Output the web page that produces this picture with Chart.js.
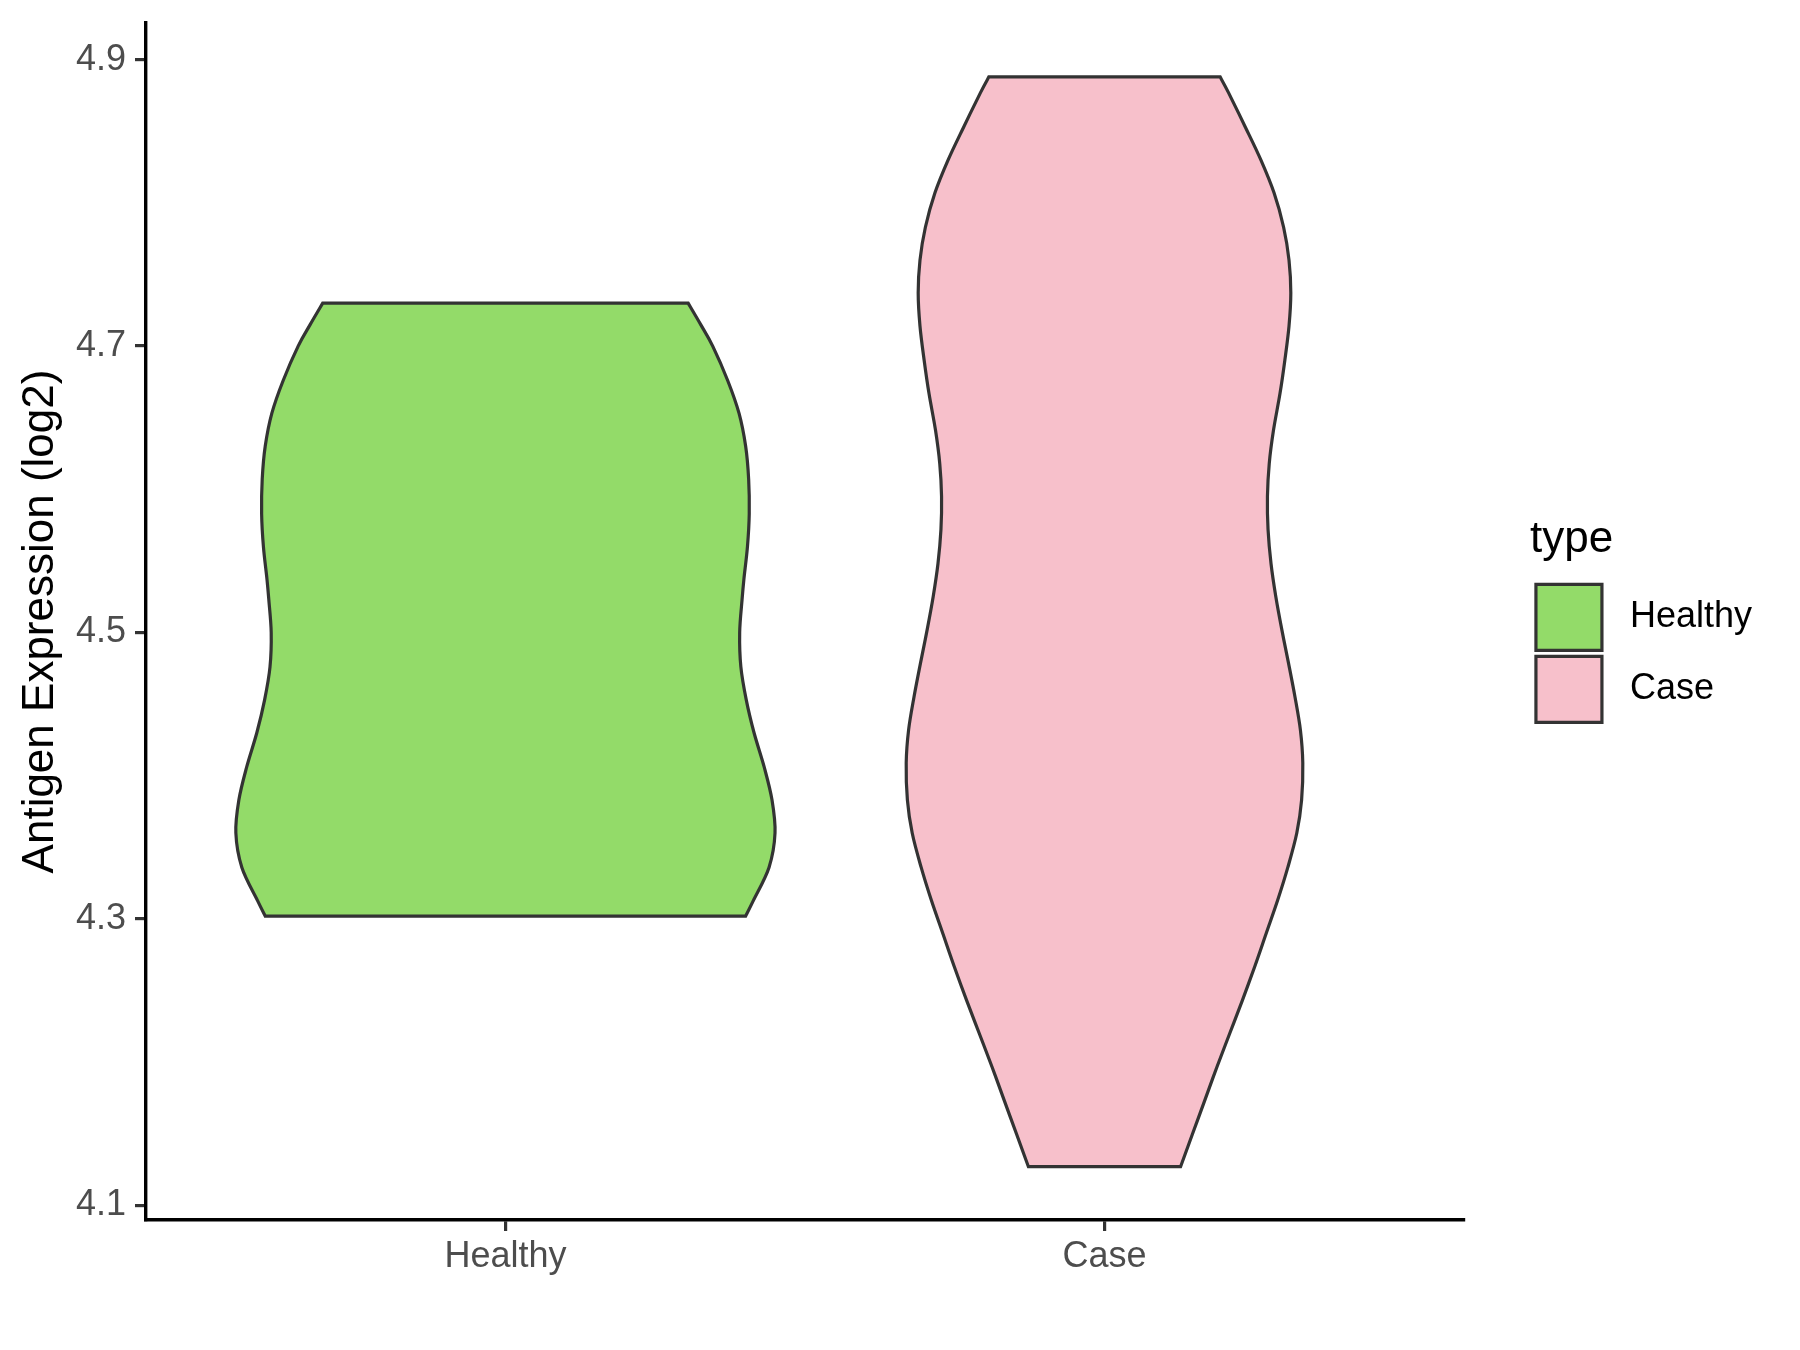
<!DOCTYPE html>
<html>
<head>
<meta charset="utf-8">
<title>Antigen Expression (log2)</title>
<script src="https://cdn.jsdelivr.net/npm/chart.js@4.4.1/dist/chart.umd.min.js"></script>
<style>
  html, body { margin: 0; padding: 0; background: #ffffff; }
  #chart { display: block; }
</style>
</head>
<body>
<canvas id="chart" width="1800" height="1350"></canvas>
<script>
// categories sit at x = 1 and x = 2 on a linear axis (ggplot style)
const categories = ["Healthy", "Case"];
const fillColors = ["#93DB69", "#F7C0CB"];
const yTicks = [4.1, 4.3, 4.5, 4.7, 4.9];
const yMin = 4.0898;
const yMax = 4.9256;

// violin outlines: expression level (top to bottom) and half width in category units
const healthyLevels = [4.730, 4.715, 4.700, 4.676, 4.653, 4.630, 4.607, 4.583, 4.560, 4.537, 4.523,
  4.500, 4.476, 4.453, 4.430, 4.406, 4.383, 4.360, 4.336, 4.313, 4.302];
const healthyHalfWidth = [0.305, 0.326, 0.346, 0.371, 0.390, 0.401, 0.406, 0.407, 0.404, 0.398, 0.395,
  0.391, 0.393, 0.402, 0.415, 0.432, 0.445, 0.450, 0.440, 0.414, 0.401];

const caseLevels = [4.888, 4.877, 4.853, 4.830, 4.807, 4.783, 4.760, 4.737, 4.714, 4.690,
  4.667, 4.641, 4.618, 4.595, 4.572, 4.548, 4.525, 4.502, 4.479, 4.455,
  4.432, 4.409, 4.383, 4.360, 4.336, 4.313, 4.290, 4.267, 4.243, 4.220,
  4.197, 4.174, 4.150, 4.127];
const caseHalfWidth = [0.193, 0.207, 0.235, 0.261, 0.283, 0.299, 0.308, 0.311, 0.308, 0.301,
  0.293, 0.282, 0.275, 0.272, 0.273, 0.278, 0.286, 0.296, 0.307, 0.318,
  0.327, 0.331, 0.329, 0.321, 0.306, 0.289, 0.270, 0.251, 0.230, 0.209,
  0.188, 0.168, 0.147, 0.127];

const FONT = "'Liberation Sans', Arial, sans-serif";

// left side top->bottom, then right side bottom->top
function violinPoints(center, levels, half) {
  const left = levels.map((y, i) => ({ x: center - half[i], y: y }));
  const right = levels.map((y, i) => ({ x: center + half[i], y: y })).reverse();
  return left.concat(right);
}

function smoothSide(ctx, pts) {
  for (let i = 0; i < pts.length - 1; i++) {
    const p0 = pts[i - 1] || pts[i];
    const p1 = pts[i];
    const p2 = pts[i + 1];
    const p3 = pts[i + 2] || p2;
    ctx.bezierCurveTo(
      p1.x + (p2.x - p0.x) / 6, p1.y + (p2.y - p0.y) / 6,
      p2.x - (p3.x - p1.x) / 6, p2.y - (p3.y - p1.y) / 6,
      p2.x, p2.y);
  }
}

// draws each violin from the pixel positions chart.js computed for its points
const violinPlugin = {
  id: "violin",
  beforeDatasetsDraw(chart) {
    const ctx = chart.ctx;
    chart.data.datasets.forEach((ds, i) => {
      const pts = chart.getDatasetMeta(i).data.map(p => ({ x: p.x, y: p.y }));
      const n = pts.length / 2;
      const left = pts.slice(0, n);
      const right = pts.slice(n);
      ctx.save();
      ctx.beginPath();
      ctx.moveTo(left[0].x, left[0].y);
      smoothSide(ctx, left);
      ctx.lineTo(right[0].x, right[0].y);
      smoothSide(ctx, right);
      ctx.closePath();
      ctx.fillStyle = ds.backgroundColor;
      ctx.fill();
      ctx.lineWidth = ds.borderWidth;
      ctx.strokeStyle = ds.borderColor;
      ctx.lineJoin = "miter";
      ctx.stroke();
      ctx.restore();
    });
  }
};

const datasets = [
  { label: categories[0], data: violinPoints(1, healthyLevels, healthyHalfWidth), backgroundColor: fillColors[0] },
  { label: categories[1], data: violinPoints(2, caseLevels, caseHalfWidth), backgroundColor: fillColors[1] }
].map(d => Object.assign(d, {
  borderColor: "#333333",
  borderWidth: 3.2,
  pointRadius: 0,
  pointHoverRadius: 0,
  showLine: false,
  xAxisID: "x",
  yAxisID: "y"
}));

new Chart(document.getElementById("chart"), {
  type: "scatter",
  data: { datasets: datasets },
  plugins: [violinPlugin],
  options: {
    responsive: false,
    animation: false,
    events: [],
    layout: { padding: { top: 23, right: 38, bottom: 0, left: 0 } },
    plugins: {
      tooltip: { enabled: false },
      legend: {
        position: "right",
        fullSize: false,
        title: {
          display: true,
          text: "type",
          position: "start",
          color: "#000000",
          font: { family: FONT, size: 44 },
          padding: { top: 3, bottom: 8 }
        },
        labels: {
          boxWidth: 66,
          boxHeight: 66,
          padding: 6,
          color: "#000000",
          font: { family: FONT, size: 36 },
          generateLabels: chart => Chart.defaults.plugins.legend.labels.generateLabels(chart)
            .map(item => Object.assign(item, { text: " " + item.text }))
        }
      }
    },
    scales: {
      x: {
        type: "linear",
        position: "bottom",
        min: 0.4,
        max: 2.6,
        afterBuildTicks: s => { s.ticks = categories.map((c, i) => ({ value: i + 1 })); },
        afterFit: s => { s.height = 130; s.paddingLeft = 0; s.paddingRight = 0; },
        ticks: {
          callback: v => categories[v - 1],
          color: "#4D4D4D",
          font: { family: FONT, size: 36 },
          padding: 4,
          maxRotation: 0
        },
        grid: { display: true, drawOnChartArea: false, drawTicks: true, tickLength: 11, color: "#333333", lineWidth: 3.2 },
        border: { display: true, color: "#000000", width: 3.4 }
      },
      y: {
        type: "linear",
        position: "left",
        min: yMin,
        max: yMax,
        afterBuildTicks: s => { s.ticks = yTicks.map(v => ({ value: v })); },
        afterFit: s => { s.width = 146; s.paddingTop = 0; s.paddingBottom = 0; },
        ticks: {
          callback: v => v.toFixed(1),
          color: "#4D4D4D",
          font: { family: FONT, size: 36 },
          padding: 9
        },
        title: {
          display: true,
          text: "Antigen Expression (log2)",
          color: "#000000",
          font: { family: FONT, size: 44 },
          padding: { top: 14, bottom: 0 }
        },
        grid: { display: true, drawOnChartArea: false, drawTicks: true, tickLength: 11, color: "#333333", lineWidth: 3.2 },
        border: { display: true, color: "#000000", width: 3.4 }
      },
      // empty spacer between the panel and the legend
      gap: {
        type: "linear",
        axis: "y",
        position: "right",
        display: true,
        ticks: { display: false },
        grid: { display: false },
        border: { display: false },
        afterFit: s => { s.width = 66; s.paddingTop = 0; s.paddingBottom = 0; }
      }
    }
  }
});
</script>
</body>
</html>
